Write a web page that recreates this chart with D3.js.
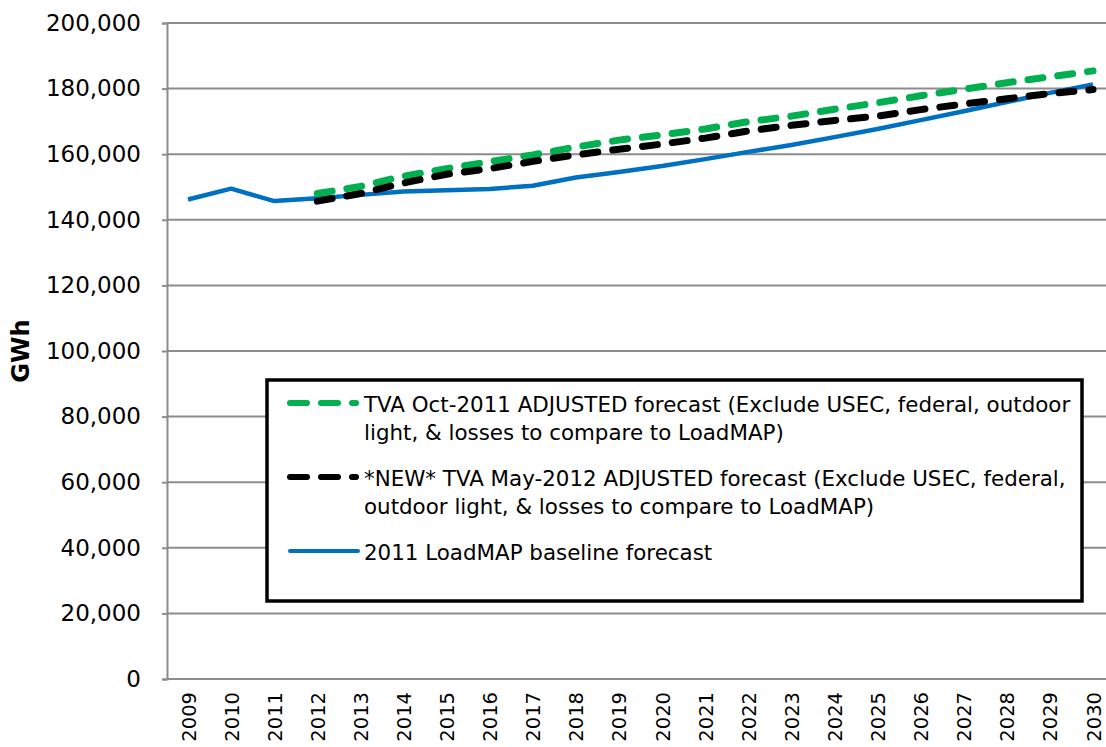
<!DOCTYPE html>
<html>
<head>
<meta charset="utf-8">
<script src="https://cdn.jsdelivr.net/npm/d3@7"></script>
<style>
  body { margin: 0; background: #fff; }
  svg { font-family: "DejaVu Sans", Verdana, sans-serif; }
</style>
</head>
<body>
<div id="chart"></div>
<script>
// years on the x axis
var years = ["2009","2010","2011","2012","2013","2014","2015","2016","2017","2018","2019",
             "2020","2021","2022","2023","2024","2025","2026","2027","2028","2029","2030"];

// series values (GWh)
var loadmap = [146200,149500,145700,146600,147600,148600,149000,149400,150400,152900,154600,
               156400,158500,160700,162800,165200,167700,170400,173100,175900,178700,181300];
var octYears = years.slice(3);
var oct2011 = [148000,150200,153300,155600,157700,159800,162200,164300,165900,167700,169900,
               171600,173700,175700,177800,179800,181800,183600,185400];
var may2012 = [145700,148000,151200,153900,155600,157800,159800,161500,163100,164900,167100,
               168800,170300,171600,173600,175300,176900,178500,179700];

var yTicks = [0,20000,40000,60000,80000,100000,120000,140000,160000,180000,200000];

var legendItems = [
  {lines:["TVA Oct-2011 ADJUSTED forecast (Exclude USEC, federal, outdoor",
          "light, & losses to compare to LoadMAP)"], color:"#00b050", dash:true},
  {lines:["*NEW* TVA May-2012 ADJUSTED forecast (Exclude USEC, federal,",
          "outdoor light, & losses to compare to LoadMAP)"], color:"#000000", dash:true},
  {lines:["2011 LoadMAP baseline forecast"], color:"#0070c0", dash:false}
];

var W = 1106, H = 747;
var plot = {left: 167, right: 1106, top: 23, bottom: 679};

var svg = d3.select("#chart").append("svg")
    .attr("width", W).attr("height", H);

var x = d3.scalePoint().domain(years).range([188, 1093]);
var y = d3.scaleLinear().domain([0, 200000]).range([plot.bottom, plot.top]);

// gridlines
svg.append("g").selectAll("line")
  .data(yTicks.slice(1))
  .enter().append("line")
  .attr("x1", plot.left).attr("x2", plot.right)
  .attr("y1", function(d){ return y(d); })
  .attr("y2", function(d){ return y(d); })
  .attr("stroke", "#8c8c8c").attr("stroke-width", 2);

// y axis
var yAxis = svg.append("g")
  .attr("transform", "translate(" + plot.left + ",0)")
  .call(d3.axisLeft(y).tickValues(yTicks).tickSize(5).tickPadding(21)
        .tickFormat(d3.format(",")));
yAxis.select(".domain").attr("stroke", "#8c8c8c").attr("stroke-width", 2);
yAxis.selectAll(".tick line").attr("stroke", "#8c8c8c").attr("stroke-width", 2);
yAxis.selectAll("text").attr("font-size", 23).attr("fill", "#000")
  .style("font-family", "'DejaVu Sans', Verdana, sans-serif");

// x axis line
svg.append("line")
  .attr("x1", plot.left).attr("x2", plot.right)
  .attr("y1", plot.bottom).attr("y2", plot.bottom)
  .attr("stroke", "#8c8c8c").attr("stroke-width", 2);

// x labels, rotated
svg.append("g").selectAll("text")
  .data(years)
  .enter().append("text")
  .attr("transform", function(d){ return "translate(" + (x(d) + 7.5) + "," + 692 + ") rotate(-90)"; })
  .attr("text-anchor", "end")
  .attr("font-size", 19.5)
  .text(function(d){ return d; });

// y title
svg.append("text")
  .attr("transform", "translate(29,351) rotate(-90)")
  .attr("text-anchor", "middle")
  .attr("font-size", 24).attr("font-weight", "bold")
  .text("GWh");

var line = d3.line()
  .x(function(d){ return x(d[0]); })
  .y(function(d){ return y(d[1]); });

svg.append("path")
  .datum(d3.zip(years, loadmap))
  .attr("fill", "none").attr("stroke", "#0070c0").attr("stroke-width", 4.5)
  .attr("stroke-linejoin", "round")
  .attr("d", line);

svg.append("path")
  .datum(d3.zip(octYears, oct2011))
  .attr("fill", "none").attr("stroke", "#00b050").attr("stroke-width", 7)
  .attr("stroke-linecap", "round").attr("stroke-dasharray", "15 15")
  .attr("d", line);

svg.append("path")
  .datum(d3.zip(octYears, may2012))
  .attr("fill", "none").attr("stroke", "#000").attr("stroke-width", 7)
  .attr("stroke-linecap", "round").attr("stroke-dasharray", "15 15")
  .attr("d", line);

// legend
var lg = svg.append("g");
lg.append("rect")
  .attr("x", 267).attr("y", 380).attr("width", 815).attr("height", 221)
  .attr("fill", "#fff").attr("stroke", "#000").attr("stroke-width", 3.5);

var rowY = [403, 477, 551];
legendItems.forEach(function(item, i){
  var sample = lg.append("line")
    .attr("x1", 290).attr("x2", item.dash ? 356 : 358)
    .attr("y1", rowY[i]).attr("y2", rowY[i])
    .attr("stroke", item.color)
    .attr("stroke-width", item.dash ? 6 : 4)
    .attr("stroke-linecap", "round");
  if (item.dash) sample.attr("stroke-dasharray", "17 14");
  item.lines.forEach(function(t, j){
    lg.append("text")
      .attr("x", 364).attr("y", rowY[i] + 9 + j * 28)
      .attr("font-size", 21.4)
      .text(t);
  });
});
</script>
</body>
</html>
